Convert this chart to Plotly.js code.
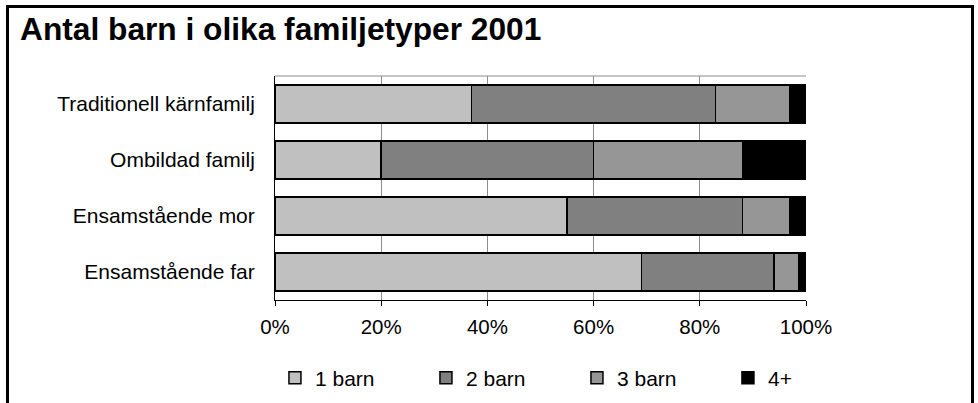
<!DOCTYPE html>
<html>
<head>
<meta charset="utf-8">
<script src="https://cdn.plot.ly/plotly-3.0.1.min.js"></script>
<style>html,body{margin:0;padding:0;background:#fff;}#chart{width:978px;height:403px;}</style>
</head>
<body>
<div id="chart"></div>
<script>
const categories = ["Traditionell kärnfamilj", "Ombildad familj", "Ensamstående mor", "Ensamstående far"];
const seriesNames = ["1 barn", "2 barn", "3 barn", "4+"];
const barn1 = [37, 20, 55, 69];
const barn2 = [46, 40, 33, 25];
const barn3 = [14, 28, 9, 4.7];
const barn4 = [3, 12, 3, 1.3];
const tickVals = [0, 20, 40, 60, 80, 100];
const tickText = ["0%", "20%", "40%", "60%", "80%", "100%"];
const colors = ["#C0C0C0", "#808080", "#969696", "#000000"];

const seriesValues = [barn1, barn2, barn3, barn4];
const traces = seriesValues.map((vals, i) => ({
  type: 'bar',
  orientation: 'h',
  name: seriesNames[i],
  y: categories,
  x: vals,
  marker: {color: colors[i], line: {color: '#000', width: 1.5}},
  hoverinfo: 'x+y+name'
}));

const font = "Liberation Sans, Arial, Helvetica, sans-serif";
const T = 76, B = 300, H = B - T;
const layout = {
  width: 978, height: 403,
  margin: {l: 275, r: 172, t: T, b: 403 - B, autoexpand: false},
  paper_bgcolor: '#fff', plot_bgcolor: '#fff',
  barmode: 'stack',
  bargap: 0.33,
  font: {family: font, size: 21, color: '#000'},
  title: {
    text: '<b>Antal barn i olika familjetyper 2001</b>',
    font: {family: font, size: 31.7, color: '#000'},
    x: 20/978, xanchor: 'left', xref: 'container',
    y: 1 - 29/403, yanchor: 'middle', yref: 'container'
  },
  xaxis: {
    range: [0, 100], tickvals: tickVals, ticktext: tickText,
    showgrid: true, gridcolor: '#8c8c8c', gridwidth: 1,
    showline: true, linecolor: '#000', linewidth: 1,
    ticks: 'outside', ticklen: 5, tickcolor: '#000',
    tickfont: {size: 20.5, family: font}, ticklabelstandoff: 3,
    zeroline: false, fixedrange: true, automargin: false
  },
  yaxis: {
    autorange: 'reversed', type: 'category',
    showline: true, linecolor: '#000', linewidth: 1,
    ticks: '', tickfont: {size: 21, family: font},
    ticklabelstandoff: 15, showgrid: false, fixedrange: true, automargin: false
  },
  legend: {
    orientation: 'h', x: -0.0001, xanchor: 'left', y: (B - 378)/H, yanchor: 'middle',
    traceorder: 'normal', entrywidth: 106, entrywidthmode: 'pixels',
    itemwidth: 30, font: {size: 21, family: font}, bgcolor: 'rgba(0,0,0,0)'
  },
  shapes: [
    {type: 'line', xref: 'paper', yref: 'paper', x0: 0, x1: 1, y0: 1, y1: 1,
     line: {color: '#8c8c8c', width: 1}},
    {type: 'rect', xref: 'paper', yref: 'paper',
     x0: (7.5 - 275)/531, x1: (972.5 - 275)/531,
     y0: -0.7, y1: (B - 6.5)/H,
     line: {color: '#000', width: 3}, fillcolor: 'rgba(0,0,0,0)', layer: 'below'}
  ],
  showlegend: true
};

Plotly.newPlot('chart', traces, layout, {displayModeBar: false, staticPlot: true});
</script>
</body>
</html>
